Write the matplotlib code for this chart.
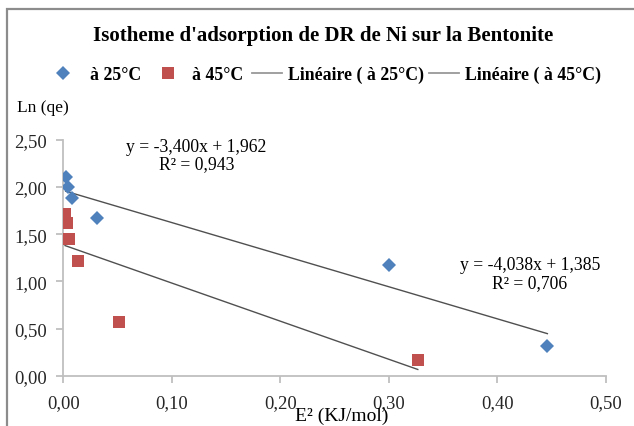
import matplotlib
matplotlib.use("Agg")
import matplotlib.pyplot as plt
from matplotlib.lines import Line2D
from matplotlib.patches import Rectangle
from matplotlib.ticker import FuncFormatter, MultipleLocator
import numpy as np

# Data: E^2 (KJ/mol) vs Ln(qe)
e2_25 = [0.0022, 0.0046, 0.0083, 0.031, 0.300, 0.446]
lnqe_25 = [2.10, 1.996, 1.88, 1.667, 1.173, 0.311]
e2_45 = [0.0016, 0.0020, 0.0030, 0.0052, 0.0132, 0.051, 0.3266]
lnqe_45 = [1.713, 1.65, 1.617, 1.448, 1.218, 0.572, 0.170]

# Linear trend lines (slope, intercept, R^2)
fit_upper = (-3.400, 1.962, 0.943)
fit_lower = (-4.038, 1.385, 0.706)

title = "Isotheme d'adsorption de DR de Ni sur la Bentonite"
legend_labels = ["à 25°C", "à 45°C", "Linéaire ( à 25°C)", "Linéaire ( à 45°C)"]
xlabel = "E² (KJ/mol)"
ylabel = "Ln (qe)"

blue = "#4F81BD"
red = "#C0504D"
trend_col = "#505050"
axis_col = "#BFBFBF"

plt.rcParams["font.family"] = ["Liberation Serif", "DejaVu Serif"]

fig = plt.figure(figsize=(6.34, 4.27), dpi=100)

# outer chart frame (runs past the right and bottom edges)
top = 1 - 10 / 427
fig.patches.append(Rectangle((6.5 / 634, -0.2), 1.2, top + 0.2,
                             transform=fig.transFigure, fill=False,
                             edgecolor="#8C8C8C", linewidth=1.6))

ax = fig.add_axes([63.3 / 634, 1 - 376.7 / 427, (606 - 63.3) / 634, (376.7 - 140.7) / 427])

ax.plot(e2_25, lnqe_25, linestyle="none", marker="D", markersize=7.0,
        color=blue, markeredgewidth=0, zorder=3)
ax.plot(e2_45, lnqe_45, linestyle="none", marker="s", markersize=8.0,
        color=red, markeredgewidth=0, zorder=3)

def trend(xs, fit):
    x = np.array([min(xs), max(xs)])
    return x, fit[0] * x + fit[1]

xu, yu = trend(e2_25, fit_upper)
xl, yl = trend(e2_45, fit_lower)
ax.plot(xu, yu, color=trend_col, linewidth=1.0, zorder=2)
ax.plot(xl, yl, color=trend_col, linewidth=1.0, zorder=2)

def fmt_num(v, nd=3):
    return f"{v:.{nd}f}".replace(".", ",")

def eq_text(fit):
    s, b, r2 = fit
    return f"y = {fmt_num(s)}x + {fmt_num(b)}\nR² = {fmt_num(r2)}"

ax.text(0.1225, 2.34, eq_text(fit_upper), ha="center", va="center",
        fontsize=12.7, linespacing=1.02)
ax.text(0.430, 1.083, eq_text(fit_lower), ha="center", va="center",
        fontsize=12.7, linespacing=1.02)

ax.set_xlim(0, 0.5)
ax.set_ylim(0, 2.5)
ax.xaxis.set_major_locator(MultipleLocator(0.1))
ax.yaxis.set_major_locator(MultipleLocator(0.5))
comma = FuncFormatter(lambda v, p: f"{v:.2f}".replace(".", ","))
ax.xaxis.set_major_formatter(comma)
ax.yaxis.set_major_formatter(comma)

for side in ("top", "right"):
    ax.spines[side].set_visible(False)
for side in ("left", "bottom"):
    ax.spines[side].set_color(axis_col)
    ax.spines[side].set_linewidth(1.3)
ax.tick_params(axis="both", direction="out", length=5, width=1.3, color=axis_col,
               labelsize=13.4, labelcolor="#262626")
ax.tick_params(axis="x", pad=8.5)
ax.tick_params(axis="y", pad=6.5)

fig.text(17 / 634, 1 - 108 / 427, ylabel, ha="left", va="center", fontsize=12.5)
fig.text(342 / 634, 1 - 416 / 427, xlabel, ha="center", va="center", fontsize=14)

fig.text(0.5 * (92 + 555) / 634, 1 - 36 / 427, title, ha="center", va="center",
         fontsize=15, fontweight="bold")

# legend: four entries laid out along one row
ly = 1 - 75.5 / 427
leg_fs = 12.75
entries = [
    (Line2D([], [], linestyle="none", marker="D", markersize=7, color=blue, markeredgewidth=0), 55.3, 0.9, 1.06),
    (Line2D([], [], linestyle="none", marker="s", markersize=8, color=red, markeredgewidth=0), 160, 0.9, 0.91),
    (Line2D([], [], color="#999999", linewidth=1.3), 252, 1.7, 0.34),
    (Line2D([], [], color="#999999", linewidth=1.3), 429, 1.7, 0.34),
]
for (h, xpx, hl, tp), lab in zip(entries, legend_labels):
    fig.legend([h], [lab], loc="center left", bbox_to_anchor=(xpx / 634, ly),
               frameon=False, borderpad=0, borderaxespad=0, handlelength=hl,
               handletextpad=tp, prop={"weight": "bold", "size": leg_fs})

fig.savefig("out.png", dpi=100)
